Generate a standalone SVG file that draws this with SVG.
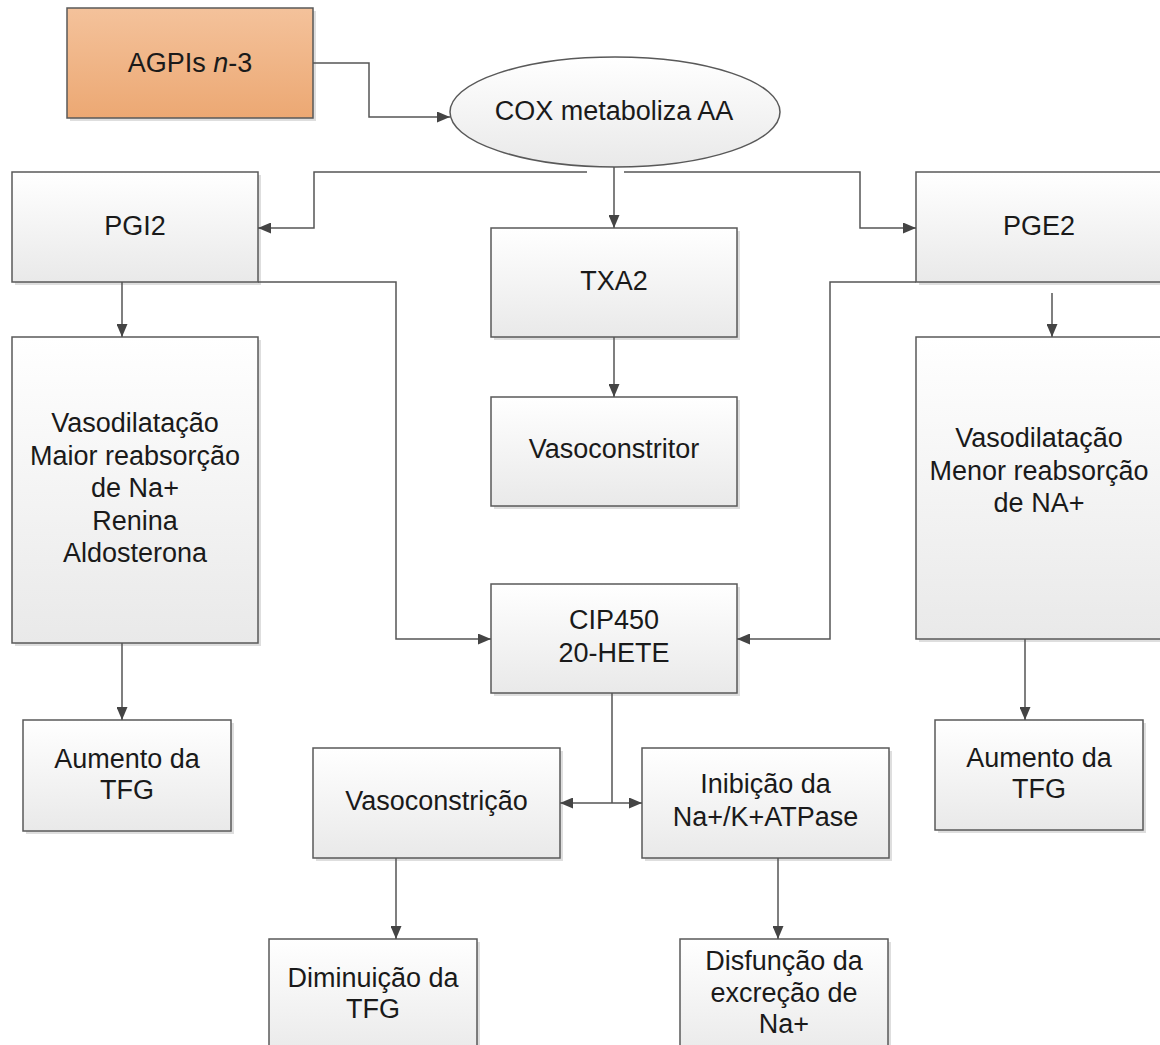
<svg xmlns="http://www.w3.org/2000/svg" width="1160" height="1045" viewBox="0 0 1160 1045">
<style>
.box{stroke:#595959;stroke-width:1.5;fill:url(#gGray)}
.sh{fill:#000;opacity:0.13}
.t{font-family:"Liberation Sans",Arial,sans-serif;font-size:27px;fill:#1a1a1a;text-anchor:middle}
.c{fill:none;stroke:#555;stroke-width:1.5}
</style>
<defs>
<linearGradient id="gGray" x1="0" y1="0" x2="0" y2="1">
<stop offset="0" stop-color="#ffffff"/>
<stop offset="1" stop-color="#e9e9e9"/>
</linearGradient>
<linearGradient id="gOrange" x1="0" y1="0" x2="0" y2="1">
<stop offset="0" stop-color="#f4c29b"/>
<stop offset="1" stop-color="#eca873"/>
</linearGradient>
<marker id="arr" markerUnits="userSpaceOnUse" markerWidth="13" markerHeight="11" refX="13" refY="5.5" orient="auto-start-reverse">
<path d="M0,0 L13,5.5 L0,11 z" fill="#444"/>
</marker>
</defs>
<rect width="1160" height="1045" fill="#ffffff"/>

<g id="agpis">
<rect class="sh" x="70" y="11" width="246" height="110"/>
<rect x="67" y="8" width="246" height="110" fill="url(#gOrange)" stroke="#595959" stroke-width="1.5"/>
<text class="t" x="190" y="72">AGPIs <tspan font-style="italic">n</tspan>-3</text>
</g>
<g id="cox">
<ellipse cx="615" cy="112" rx="165" ry="55" fill="url(#gGray)" stroke="#595959" stroke-width="1.5"/>
<text class="t" x="614" y="120">COX metaboliza AA</text>
</g>
<g id="pgi2">
<rect class="sh" x="15" y="175" width="246" height="110"/>
<rect class="box" x="12" y="172" width="246" height="110"/>
<text class="t" x="135" y="235">PGI2</text>
</g>
<g id="txa2">
<rect class="sh" x="494" y="231" width="246" height="109"/>
<rect class="box" x="491" y="228" width="246" height="109"/>
<text class="t" x="614" y="290">TXA2</text>
</g>
<g id="pge2">
<rect class="sh" x="919" y="175" width="246" height="110"/>
<rect class="box" x="916" y="172" width="246" height="110"/>
<text class="t" x="1039" y="235">PGE2</text>
</g>
<g id="vasoconstritor">
<rect class="sh" x="494" y="400" width="246" height="109"/>
<rect class="box" x="491" y="397" width="246" height="109"/>
<text class="t" x="614" y="458">Vasoconstritor</text>
</g>
<g id="vasodil-left">
<rect class="sh" x="15" y="340" width="246" height="306"/>
<rect class="box" x="12" y="337" width="246" height="306"/>
<text class="t" x="135" y="432">Vasodilatação</text>
<text class="t" x="135" y="464.5">Maior reabsorção</text>
<text class="t" x="135" y="497">de Na+</text>
<text class="t" x="135" y="529.5">Renina</text>
<text class="t" x="135" y="562">Aldosterona</text>
</g>
<g id="vasodil-right">
<rect class="sh" x="919" y="340" width="246" height="302"/>
<rect class="box" x="916" y="337" width="246" height="302"/>
<text class="t" x="1039" y="447">Vasodilatação</text>
<text class="t" x="1039" y="479.5">Menor reabsorção</text>
<text class="t" x="1039" y="512">de NA+</text>
</g>
<g id="cip450">
<rect class="sh" x="494" y="587" width="246" height="109"/>
<rect class="box" x="491" y="584" width="246" height="109"/>
<text class="t" x="614" y="629">CIP450</text>
<text class="t" x="614" y="662">20-HETE</text>
</g>
<g id="aumento-left">
<rect class="sh" x="26" y="723" width="208" height="111"/>
<rect class="box" x="23" y="720" width="208" height="111"/>
<text class="t" x="127" y="768">Aumento da</text>
<text class="t" x="127" y="799">TFG</text>
</g>
<g id="aumento-right">
<rect class="sh" x="938" y="723" width="208" height="110"/>
<rect class="box" x="935" y="720" width="208" height="110"/>
<text class="t" x="1039" y="767">Aumento da</text>
<text class="t" x="1039" y="798">TFG</text>
</g>
<g id="vasoconstricao">
<rect class="sh" x="316" y="751" width="247" height="110"/>
<rect class="box" x="313" y="748" width="247" height="110"/>
<text class="t" x="436.5" y="810">Vasoconstrição</text>
</g>
<g id="inibicao">
<rect class="sh" x="645" y="751" width="247" height="110"/>
<rect class="box" x="642" y="748" width="247" height="110"/>
<text class="t" x="765.5" y="793">Inibição da</text>
<text class="t" x="765.5" y="825.5">Na+/K+ATPase</text>
</g>
<g id="diminuicao">
<rect class="sh" x="272" y="942" width="208" height="120"/>
<rect class="box" x="269" y="939" width="208" height="120"/>
<text class="t" x="373" y="987">Diminuição da</text>
<text class="t" x="373" y="1018">TFG</text>
</g>
<g id="disfuncao">
<rect class="sh" x="683" y="942" width="208" height="120"/>
<rect class="box" x="680" y="939" width="208" height="120"/>
<text class="t" x="784" y="970">Disfunção da</text>
<text class="t" x="784" y="1002">excreção de</text>
<text class="t" x="784" y="1033">Na+</text>
</g>

<g id="connectors">
<path class="c" d="M313,63 H369 V117 H450" marker-end="url(#arr)"/>
<path class="c" d="M614,167 V228" marker-end="url(#arr)"/>
<path class="c" d="M587,172 H314 V228 H258" marker-end="url(#arr)"/>
<path class="c" d="M624,172 H860 V228 H916" marker-end="url(#arr)"/>
<path class="c" d="M122,282 V337" marker-end="url(#arr)"/>
<path class="c" d="M258,282 H396 V639 H491" marker-end="url(#arr)"/>
<path class="c" d="M614,337 V397" marker-end="url(#arr)"/>
<path class="c" d="M1052,293 V337" marker-end="url(#arr)"/>
<path class="c" d="M916,282 H830 V639 H737" marker-end="url(#arr)"/>
<path class="c" d="M122,643 V720" marker-end="url(#arr)"/>
<path class="c" d="M1025,639 V720" marker-end="url(#arr)"/>
<path class="c" d="M612,693 V803"/>
<path class="c" d="M560,803 H642" marker-start="url(#arr)" marker-end="url(#arr)"/>
<path class="c" d="M396,858 V939" marker-end="url(#arr)"/>
<path class="c" d="M778,858 V939" marker-end="url(#arr)"/>
</g>
</svg>
